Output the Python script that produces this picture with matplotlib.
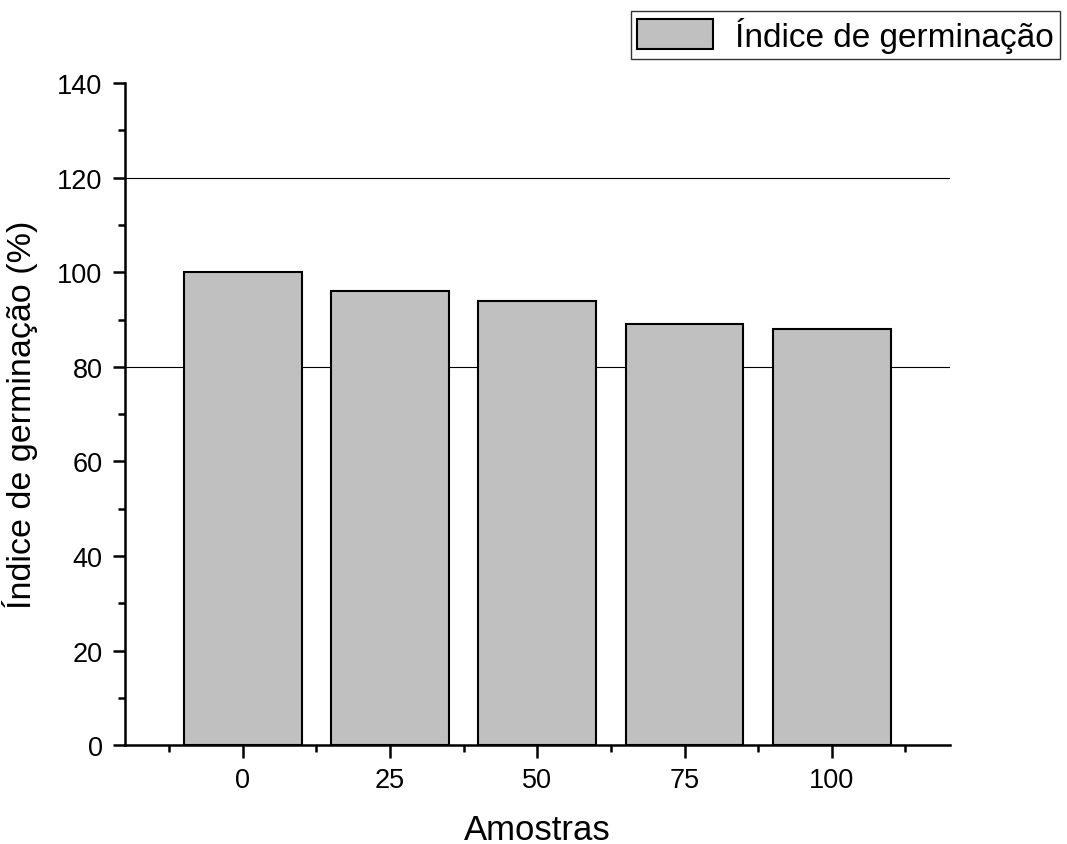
import matplotlib
matplotlib.use('Agg')
import matplotlib.pyplot as plt
from matplotlib.ticker import MultipleLocator, FixedLocator

plt.rcParams['font.family'] = ['Liberation Sans', 'DejaVu Sans']

# data
amostras = ['0', '25', '50', '75', '100']
indice = [100, 96, 94, 89, 88]
ref_lines = [80, 120]

fig = plt.figure(figsize=(10.67, 8.45), dpi=100)
ax = fig.add_axes([0.117, 0.117, 0.773, 0.7835])

pos = list(range(len(amostras)))
ax.bar(pos, indice, width=0.8, color='#c0c0c0', edgecolor='black',
       linewidth=1.5, label='Índice de germinação', zorder=3)
for yv in ref_lines:
    ax.axhline(yv, color='black', linewidth=0.8, zorder=1)

ax.set_xlim(-0.8, 4.8)
ax.set_ylim(0, 140)
ax.set_xticks(pos)
ax.set_xticklabels(amostras)
ax.xaxis.set_minor_locator(FixedLocator([p - 0.5 for p in pos] + [pos[-1] + 0.5]))
ax.yaxis.set_major_locator(MultipleLocator(20))
ax.yaxis.set_minor_locator(MultipleLocator(10))

for s in ['top', 'right']:
    ax.spines[s].set_visible(False)
for s in ['left', 'bottom']:
    ax.spines[s].set_linewidth(1.8)

ax.tick_params(which='major', direction='out', length=9, width=1.8,
               labelsize=19.5, pad=7)
ax.tick_params(which='minor', direction='out', length=5, width=1.8)

ax.set_xlabel('Amostras', fontsize=25, labelpad=14)
ax.set_ylabel('Índice de germinação (%)', fontsize=24.5, labelpad=14)

leg = ax.legend(loc='upper left', bbox_to_anchor=(0.591, 0.986), bbox_transform=fig.transFigure,
                fontsize=24, frameon=True, fancybox=False, edgecolor='black',
                handlelength=2.3, handleheight=1.0, borderpad=0.18, handletextpad=0.65,
                borderaxespad=0.0)
leg.get_frame().set_linewidth(1.0)

fig.savefig('out.png', dpi=100)
